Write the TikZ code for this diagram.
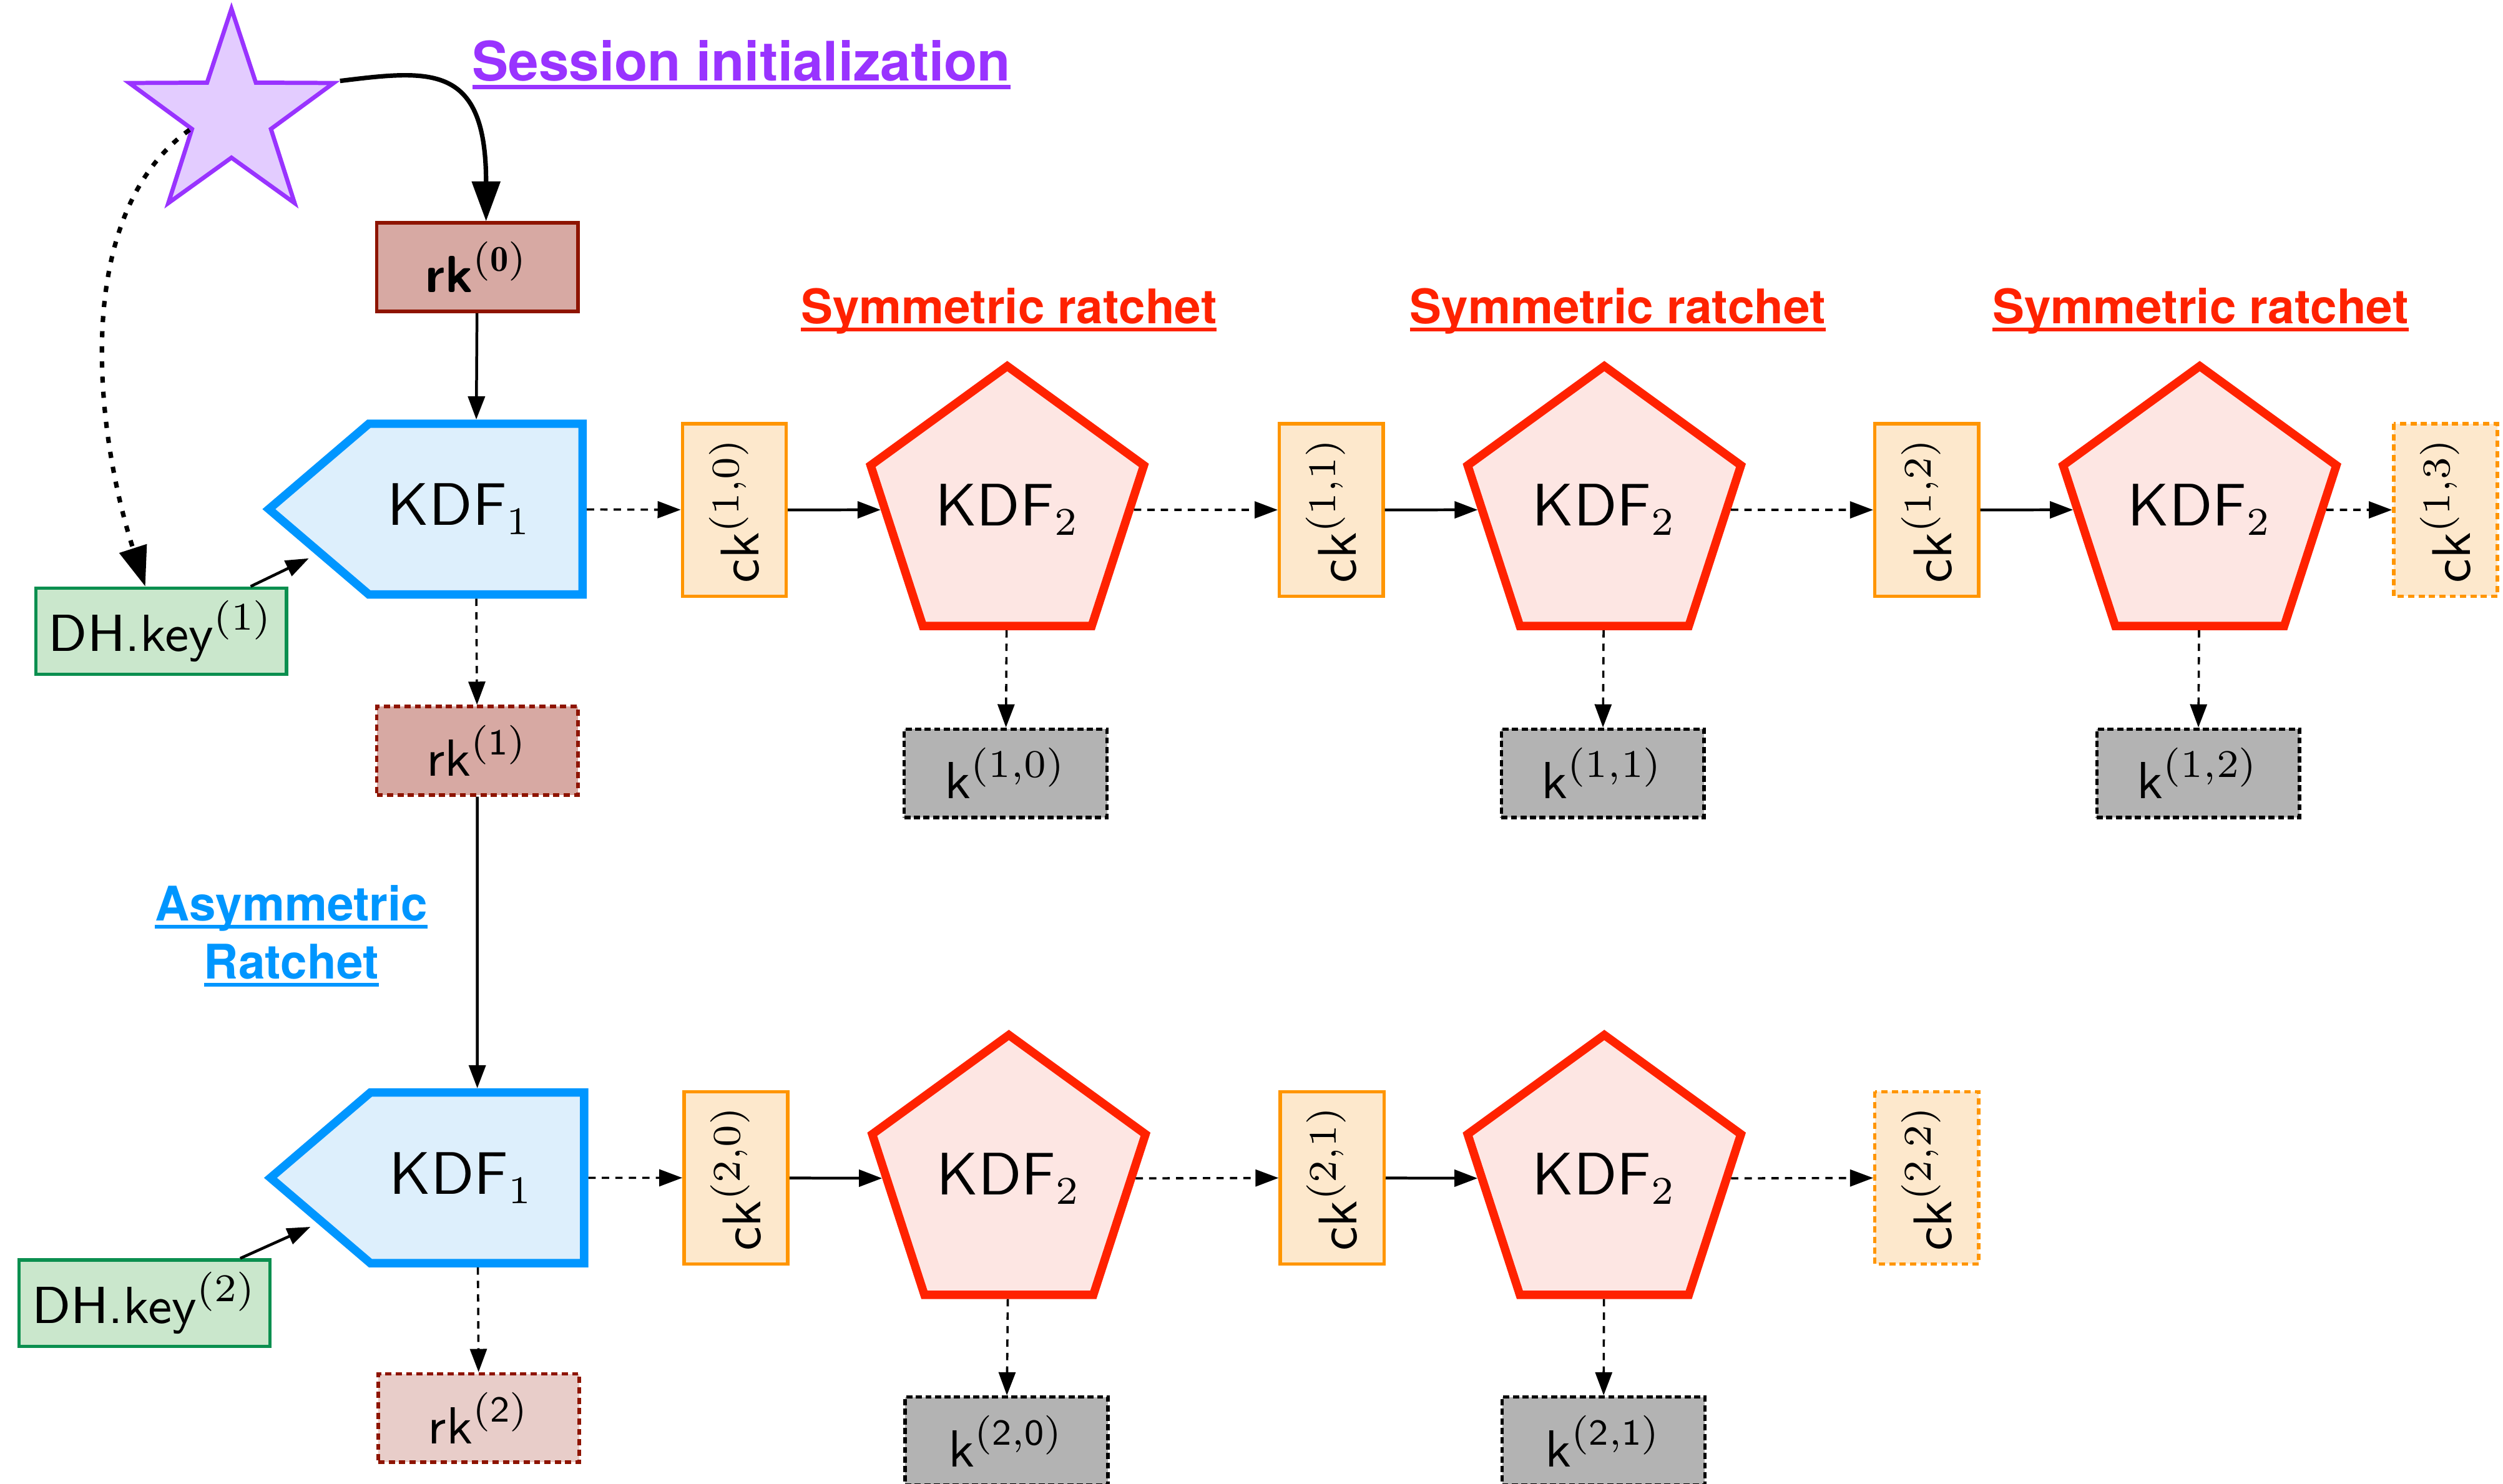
\documentclass[tikz,border=0pt]{standalone}
\usepackage{fontspec}
\usepackage{amsmath}
\usetikzlibrary{shapes.geometric, shapes.symbols, arrows.meta, positioning, calc}
\newfontfamily\headfont{TeX Gyre Heros}

\definecolor{initviolet}{HTML}{9933FF}
\definecolor{starfill}{HTML}{E3CCFF}
\definecolor{ratchetred}{HTML}{FF2200}
\definecolor{kdftwofill}{HTML}{FDE6E3}
\definecolor{ratchetblue}{HTML}{0096FF}
\definecolor{kdfonefill}{HTML}{DDEFFC}
\definecolor{ckorange}{HTML}{FF9500}
\definecolor{ckfill}{HTML}{FDE8CC}
\definecolor{rkred}{HTML}{8E1400}
\definecolor{rkfill}{HTML}{D7A9A3}
\definecolor{rkpale}{HTML}{E8CDC9}
\definecolor{dhgreen}{HTML}{0B8F4F}
\definecolor{dhfill}{HTML}{CAE7CC}
\definecolor{keygray}{HTML}{B3B3B3}

% heading text with a rule just under the baseline
\newcommand{\ulhead}[1]{\setbox0\hbox{#1}\rlap{\usebox0}\rule[-0.5mm]{\wd0}{0.25mm}}

\begin{document}
\begin{tikzpicture}[
    kdfone/.style={signal, signal to=west, signal pointer angle=81, draw=ratchetblue, fill=kdfonefill, line width=1.5pt, minimum width=1.94cm, minimum height=1.07cm, font=\fontsize{10.7}{12}\selectfont\sffamily},
    kdftwo/.style={regular polygon, regular polygon sides=5, draw=ratchetred, fill=kdftwofill, line width=1.5pt, minimum size=1.80cm, inner sep=0pt, font=\fontsize{10.7}{12}\selectfont\sffamily},
    rkbox/.style={rectangle, draw=rkred, fill=rkfill, line width=0.65pt, minimum width=1.26cm, minimum height=0.535cm, font=\fontsize{9.3}{11}\selectfont\sffamily},
    ckbox/.style={rectangle, draw=ckorange, fill=ckfill, line width=0.6pt, rotate=90, minimum width=1.08cm, minimum height=0.65cm, inner sep=0pt, font=\fontsize{9.7}{11}\selectfont\sffamily},
    keybox/.style={rectangle, draw=black, fill=keygray, line width=0.6pt, dash pattern=on 1.1pt off 0.6pt, minimum width=1.27cm, minimum height=0.54cm, font=\fontsize{9.3}{11}\selectfont\sffamily},
    dhbox/.style={rectangle, draw=dhgreen, fill=dhfill, line width=0.6pt, inner xsep=1.5pt, inner ysep=1pt, minimum width=1.57cm, minimum height=0.54cm, font=\fontsize{9.3}{11}\selectfont\sffamily},
    nextkey/.style={dash pattern=on 1.1pt off 0.75pt},
    title/.style={font=\headfont\bfseries\fontsize{8.5}{10.3}\selectfont, align=center, anchor=base},
    arrow/.style={-{Triangle[length=1.45mm, width=1.05mm]}, line width=0.5pt},
    dasharrow/.style={arrow, line width=0.4pt, dash pattern=on 1.3pt off 1.1pt},
    bigarrow/.style={-{Triangle[length=2.5mm, width=1.75mm]}, line width=0.8pt}
]
    \useasboundingbox (0,0) rectangle (15.68,-9.295);

    % session start
    \node[star, star points=5, star point ratio=2.59, minimum size=1.346cm, inner sep=0pt, draw=initviolet, fill=starfill, line width=0.75pt] (seed) at (1.45,-0.728) {};
    \node[title, text=initviolet, font=\headfont\bfseries\fontsize{9.7}{11}\selectfont] (sessiontitle) at (4.645,-0.508) {\ulhead{Session initialization}};

    % first chain
    \node[rkbox] (rk0) at (2.99,-1.674) {{\bfseries rk}$^{\mathbf{(0)}}$};
    \node[kdfone] (kdfA) at (2.98,-3.19) {KDF$_1$\kern2mm};
    \node[dhbox] (dh1) at (1.01,-3.955) {DH.key$^{(1)}$};
    \node[rkbox, nextkey] (rk1) at (2.99,-4.704) {rk$^{(\mathsf{1})}$};

    \node[ckbox] (ck10) at (4.60,-3.195) {ck$^{(1,0)}$};
    \node[kdftwo] (kdf10) at (6.31,-3.194) {KDF$_2$};
    \node[keybox] (k10) at (6.30,-4.845) {k$^{(1,0)}$};
    \node[ckbox] (ck11) at (8.34,-3.195) {ck$^{(1,1)}$};
    \node[kdftwo] (kdf11) at (10.05,-3.194) {KDF$_2$};
    \node[keybox] (k11) at (10.04,-4.845) {k$^{(1,1)}$};
    \node[ckbox] (ck12) at (12.07,-3.195) {ck$^{(1,2)}$};
    \node[kdftwo] (kdf12) at (13.78,-3.194) {KDF$_2$};
    \node[keybox] (k12) at (13.77,-4.845) {k$^{(1,2)}$};
    \node[ckbox, nextkey] (ck13) at (15.32,-3.195) {ck$^{(1,3)}$};

    \node[title, text=ratchetred] (symtitle1) at (6.32,-2.026) {\ulhead{Symmetric ratchet}};
    \node[title, text=ratchetred] (symtitle2) at (10.135,-2.026) {\ulhead{Symmetric ratchet}};
    \node[title, text=ratchetred] (symtitle3) at (13.785,-2.026) {\ulhead{Symmetric ratchet}};
    \node[title, text=ratchetblue] (asymtitle) at (1.825,-6.132) {\ulhead{Asymmetric}\\\ulhead{Ratchet}};

    % second chain
    \node[kdfone] (kdfB) at (2.99,-7.38) {KDF$_1$\kern2mm};
    \node[dhbox] (dh2) at (0.905,-8.165) {DH.key$^{(2)}$};
    \node[rkbox, nextkey, fill=rkpale] (rk2) at (3.00,-8.885) {rk$^{(\mathsf{2})}$};

    \node[ckbox] (ck20) at (4.61,-7.38) {ck$^{(2,0)}$};
    \node[kdftwo] (kdf20) at (6.32,-7.385) {KDF$_2$};
    \node[keybox] (k20) at (6.305,-9.03) {k$^{(\mathsf{2,0})}$};
    \node[ckbox] (ck21) at (8.345,-7.38) {ck$^{(2,1)}$};
    \node[kdftwo] (kdf21) at (10.05,-7.385) {KDF$_2$};
    \node[keybox] (k21) at (10.045,-9.03) {k$^{(\mathsf{2,1})}$};
    \node[ckbox, nextkey] (ck22) at (12.07,-7.38) {ck$^{(2,2)}$};

    % connectors
    \draw[bigarrow] (seed.outer point 5) .. controls +(0.57,0.07) and +(0,0.99) .. ([xshift=0.55mm]rk0.north);
    \draw[bigarrow, dash pattern=on 1.1pt off 1.6pt] (seed.inner point 2) .. controls +(-0.75,-0.54) and +(-0.31,0.96) .. ([xshift=-1mm]dh1.north);
    \draw[arrow] (rk0) -- (kdfA);
    \draw[arrow, shorten >=0.5mm] ([xshift=5.6mm]dh1.north) -- (kdfA.196);
    \draw[dasharrow] (kdfA) -- (rk1);
    \draw[arrow] (rk1) -- (kdfB);
    \draw[arrow, shorten >=0.5mm] ([xshift=6mm]dh2.north) -- (kdfB.196);
    \draw[dasharrow] (kdfB) -- (rk2);

    \draw[dasharrow] (kdfA) -- (ck10);
    \draw[arrow] (ck10) -- (kdf10);
    \draw[dasharrow] (kdf10) -- (ck11);
    \draw[arrow] (ck11) -- (kdf11);
    \draw[dasharrow] (kdf11) -- (ck12);
    \draw[arrow] (ck12) -- (kdf12);
    \draw[dasharrow] (kdf12) -- (ck13);
    \draw[dasharrow] (kdf10) -- (k10);
    \draw[dasharrow] (kdf11) -- (k11);
    \draw[dasharrow] (kdf12) -- (k12);

    \draw[dasharrow] (kdfB) -- (ck20);
    \draw[arrow] (ck20) -- (kdf20);
    \draw[dasharrow] (kdf20) -- (ck21);
    \draw[arrow] (ck21) -- (kdf21);
    \draw[dasharrow] (kdf21) -- (ck22);
    \draw[dasharrow] (kdf20) -- (k20);
    \draw[dasharrow] (kdf21) -- (k21);
\end{tikzpicture}
\end{document}
